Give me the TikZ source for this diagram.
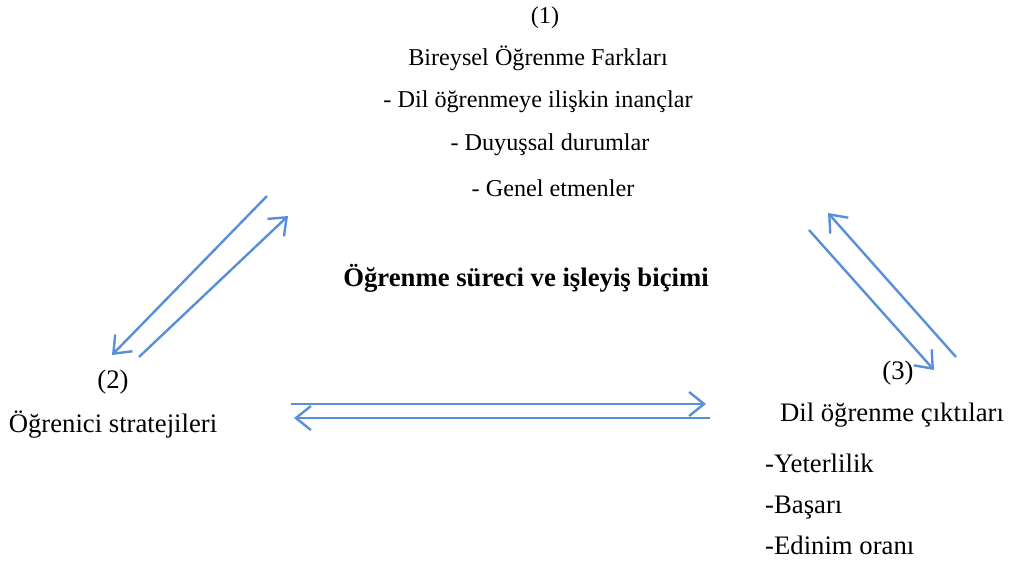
\documentclass[tikz,border=0pt]{standalone}
\usepackage{fontspec}
\setmainfont{Liberation Serif}
\usetikzlibrary{arrows.meta}
\definecolor{arrowblue}{RGB}{88,143,216}
\begin{document}
\begin{tikzpicture}[x=1pt,y=-1pt,
  lbl/.style={inner sep=0pt,font=\fontsize{24.2}{28}\selectfont},
  big/.style={inner sep=0pt,font=\fontsize{26.7}{30}\selectfont},
  conn/.style={draw=arrowblue,line width=2.4pt,-{Straight Barb[length=15pt,width=24pt]}}]
\useasboundingbox (0,0) rectangle (1011,560);
% top block
\node[lbl] (n1) at (545,18) {(1)};
\node[lbl] (bir) at (538,58) {Bireysel Öğrenme Farkları};
\node[lbl] (dil) at (538,102) {- Dil öğrenmeye ilişkin inançlar};
\node[lbl] (duy) at (550,145) {- Duyuşsal durumlar};
\node[lbl] (gen) at (553,188) {- Genel etmenler};
\node[big,font=\fontsize{26.7}{30}\selectfont\bfseries] (mid) at (526,278) {Öğrenme süreci ve işleyiş biçimi};
% left block
\node[big] (n2) at (113,382) {(2)};
\node[big] (ogr) at (113,425) {Öğrenici stratejileri};
% right block
\node[big] (n3) at (898,373) {(3)};
\node[big] (cik) at (892,415) {Dil öğrenme çıktıları};
\node[big,anchor=base west] (yet) at (765,472) {-Yeterlilik};
\node[big,anchor=base west] (bas) at (765,513) {-Başarı};
\node[big,anchor=base west] (edi) at (765,554) {-Edinim oranı};
% arrow end points
\coordinate (a1s) at (267,196);
\coordinate (a1e) at (112,355);
\coordinate (a2s) at (139,357);
\coordinate (a2e) at (288,216);
\coordinate (b1s) at (809,230);
\coordinate (b1e) at (934,370);
\coordinate (b2s) at (956,357);
\coordinate (b2e) at (828,213);
\coordinate (h1s) at (291,404);
\coordinate (h1e) at (706,404);
\coordinate (h2s) at (710,418);
\coordinate (h2e) at (294,418);
\draw[conn] (a1s) -- (a1e);
\draw[conn] (a2s) -- (a2e);
\draw[conn] (b1s) -- (b1e);
\draw[conn] (b2s) -- (b2e);
\draw[conn] (h1s) -- (h1e);
\draw[conn] (h2s) -- (h2e);
\end{tikzpicture}
\end{document}
